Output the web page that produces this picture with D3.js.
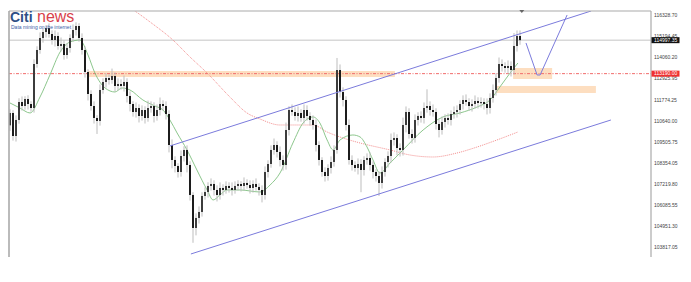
<!DOCTYPE html>
<html>
<meta charset="utf-8">
<style>
  body { margin: 0; background: #fff; }
  svg { display: block; }
  .tick-label { font-family: "Liberation Sans", Arial, sans-serif; font-size: 5px; fill: #444; }
  .price-box text { font-family: "Liberation Sans", Arial, sans-serif; font-size: 5px; fill: #fff; }
  .frame { stroke: #aaa; fill: none; }
</style>
<body>
<script src="https://d3js.org/d3.v7.min.js"></script>
<script>
// closing prices, one per bar (open = previous close)
var firstOpen = 110400;
var closes = [
  111067,109825,110689,111660,111444,111822,111552,111336,113711,114467,
  115114,115438,115654,115330,115006,115222,114683,114791,114197,114575,
  115114,115546,115762,115114,114467,113279,112092,111444,110797,110635,
  112308,112740,112955,112848,113063,112524,112632,112524,112740,111984,
  111552,111120,111336,110905,111228,110797,111336,111444,110905,111228,
  111552,111444,111013,109339,108530,108206,107882,108746,109070,108260,
  106641,104860,105400,105724,106587,106803,107127,107235,106911,106641,
  107019,106911,107127,107019,106911,107127,107235,107127,107289,107181,
  107019,107235,107073,106911,106641,107882,108314,109070,109339,108962,
  108530,108260,110149,111228,111120,110905,111067,110797,111228,110905,
  110689,110419,109339,108530,107882,107666,108098,108422,109070,113387,
  112200,111768,110419,108530,108260,108098,108314,107990,108530,108638,
  108260,107882,107666,107289,107882,108422,108746,109609,109717,109177,
  109070,110419,111120,109933,109717,110689,110905,110797,111336,111444,
  111228,111120,110473,110149,110581,110797,110689,111013,111120,111228,
  111552,111768,111660,111444,111552,111714,111606,111660,111552,111336,
  111876,112308,112955,113711,113603,113495,113603,113387,114683,115222,
  114997.35
];
// wick length above / below the body, in price points
var wickUp = [
  200,150,250,200,300,150,200,150,250,200, 300,200,150,250,200,300,200,350,200,250,
  200,300,200,150,250,200,150,200,250,150, 300,200,250,200,400,200,300,250,350,200,
  250,150,300,200,250,200,400,250,200,300, 350,200,250,200,300,200,150,300,200,250,
  200,150,250,300,200,250,200,300,200,250, 300,200,250,200,300,250,200,150,300,200,
  250,200,300,200,250,300,200,250,350,200, 300,250,400,200,300,250,350,200,300,250,
  200,250,300,200,150,250,200,300,250,650, 300,250,200,300,250,200,300,250,200,250,
  300,200,150,250,300,200,250,350,300,200, 250,400,300,200,250,300,200,250,300,900,
  250,300,200,250,300,200,250,200,300,250, 200,250,300,200,250,300,200,250,200,300,
  250,300,250,350,250,200,300,250,700,300, 300
];
var wickDn = [
  300,250,300,200,250,200,300,200,250,200, 200,250,300,200,250,350,200,300,250,200,
  250,200,300,200,250,300,350,250,300,700, 250,200,300,250,200,300,250,200,300,350,
  400,250,300,350,250,300,200,250,350,250, 300,250,300,400,450,350,300,250,300,400,
  300,800,400,300,250,200,300,250,300,350, 250,300,200,250,300,200,250,300,250,200,
  300,250,200,300,400,250,300,200,250,300, 350,300,250,300,200,250,300,200,300,250,
  300,250,350,300,250,300,250,300,250,200, 300,350,300,250,300,200,350,1200,300,250,
  300,350,300,700,300,250,300,350,300,400, 350,300,400,250,300,250,300,250,300,250,
  300,250,300,400,250,300,250,300,250,300, 250,300,200,250,300,250,300,250,300,350,
  300,250,300,250,300,250,300,350,250,300, 250
];

var tickLabels = ["116328.70","115194.45","114060.20","112925.95","111774.25","110640.00",
                  "109505.75","108354.05","107219.80","106085.55","104951.30","103817.05"];

var currentPrice = 114997.35;
var alertPrice = 113190.00;

// moving averages, read at bar positions
var greenMaIdx = [0,3.3,6.7,10,13.3,16.7,20,23.3,26,28.3,31.7,35,37.3,40,44.3,48.3,51,53.3,55.7,59,
                  62.3,65.7,67.7,70,72.3,76.7,83.3,86.7,90,94.3,97.7,101,103.3,105.7,107.7,110,114.3,
                  116.7,119,121,123.3,126.7,131,137.7,144.3,150,155.7,160,163.3,166.7,169.3];
var greenMaVal = [111606,111336,111067,111930,113117,114359,114899,115006,114197,113225,112416,112200,
                  112416,112308,111768,111444,111228,110689,109987,109070,107990,106911,106371,106641,
                  106911,106911,106803,107181,107828,109447,110527,110851,110527,109609,109070,109609,
                  109879,109771,109231,108530,107828,108368,109070,110149,110851,111067,111390,111768,
                  112470,113225,113765];
var redMaIdx = [38.3,46.7,54.3,60,65.7,73.3,79,83.3,90,101,105.7,110,116.7,126.7,133.3,141,149,155.7,162.3,169.3];
var redMaVal = [116949,115978,115006,114089,113225,111930,111067,110743,110419,110419,110041,109771,
                109447,109070,108800,108692,108908,109231,109609,110041];

// drawn objects: channel, projection, zones
var channelUpper = [[53.3, 109286], [193.7, 116572]];
var channelLower = [[60.3, 103457], [200.3, 110689]];
var projection = [[172, 114845], [175.7, 113117], [176.7, 113117], [185.7, 116356]];
var zones = [
  {from: 26, to: 128.3, top: 113333, bottom: 113009},
  {from: 167.7, to: 180.7, top: 113495, bottom: 112902},
  {from: 162, to: 195.3, top: 112524, bottom: 112146}
];

var width = 691, height = 282;
var plot = {left: 9, right: 651, top: 11, bottom: 257};

var x = d3.scaleLinear().domain([0, 214]).range([10, 652]);
var y = d3.scaleLinear().domain([103817.05, 116328.70]).range([247.3, 15.5]);

var svg = d3.select("body").append("svg")
    .attr("width", width)
    .attr("height", height);

svg.append("clipPath").attr("id", "clip")
  .append("rect")
    .attr("x", plot.left).attr("y", plot.top)
    .attr("width", plot.right - plot.left).attr("height", plot.bottom - plot.top);

var g = svg.append("g").attr("clip-path", "url(#clip)");

// zones
g.selectAll(".zone")
  .data(zones)
  .enter().append("rect")
    .attr("class", "zone")
    .attr("x", function(d) { return x(d.from); })
    .attr("width", function(d) { return x(d.to) - x(d.from); })
    .attr("y", function(d) { return y(d.top); })
    .attr("height", function(d) { return y(d.bottom) - y(d.top); })
    .style("fill", "#fbc896")
    .style("opacity", 0.6);

// current price and alert lines
g.append("line")
    .attr("x1", plot.left).attr("x2", plot.right)
    .attr("y1", y(currentPrice)).attr("y2", y(currentPrice))
    .style("stroke", "#c4c4c4").style("stroke-width", 1);

g.append("line")
    .attr("x1", plot.left).attr("x2", plot.right)
    .attr("y1", y(alertPrice)).attr("y2", y(alertPrice))
    .style("stroke", "#f26a6a").style("stroke-width", 1)
    .style("stroke-dasharray", "3,1.5,1,1.5");

// moving averages
var maLine = d3.line()
    .x(function(d) { return x(d[0]); })
    .y(function(d) { return y(d[1]); })
    .curve(d3.curveMonotoneX);

g.append("path")
    .datum(redMaIdx.map(function(v, i) { return [v, redMaVal[i]]; }))
    .attr("d", maLine)
    .style("fill", "none").style("stroke", "#f08080").style("stroke-width", 0.9)
    .style("stroke-dasharray", "1,1");

g.append("path")
    .datum(greenMaIdx.map(function(v, i) { return [v, greenMaVal[i]]; }))
    .attr("d", maLine)
    .style("fill", "none").style("stroke", "#7fbf7f").style("stroke-width", 0.9);

// candles
var bars = closes.map(function(c, i) {
  var o = i === 0 ? firstOpen : closes[i - 1];
  return {i: i, open: o, close: c,
          high: Math.max(o, c) + wickUp[i], low: Math.min(o, c) - wickDn[i]};
});

var candle = g.selectAll(".candle")
  .data(bars)
  .enter().append("g")
    .attr("class", "candle");

candle.append("line")
    .attr("x1", function(d) { return x(d.i); })
    .attr("x2", function(d) { return x(d.i); })
    .attr("y1", function(d) { return y(d.high); })
    .attr("y2", function(d) { return y(d.low); })
    .style("stroke", "#bdbdbd").style("stroke-width", 1);

candle.append("rect")
    .attr("x", function(d) { return x(d.i) - 1; })
    .attr("width", 2)
    .attr("y", function(d) { return y(Math.max(d.open, d.close)); })
    .attr("height", function(d) { return Math.max(1.2, Math.abs(y(d.open) - y(d.close))); })
    .style("fill", function(d) { return d.close >= d.open ? "#3c3c3c" : "#1c1c1c"; });

// channel and projection
var pt = d3.line()
    .x(function(d) { return x(d[0]); })
    .y(function(d) { return y(d[1]); });

[channelUpper, channelLower].forEach(function(c) {
  g.append("path").datum(c).attr("d", pt)
    .style("fill", "none").style("stroke", "#7b7bdc").style("stroke-width", 1);
});

g.append("path").datum(projection).attr("d", pt)
    .style("fill", "none").style("stroke", "#7b7bdc").style("stroke-width", 1);

// frame
svg.append("line").attr("class", "frame")
    .attr("x1", plot.left).attr("x2", plot.right).attr("y1", plot.top).attr("y2", plot.top)
    .style("stroke-width", 1.2);
svg.append("line").attr("class", "frame")
    .attr("x1", plot.left).attr("x2", plot.left).attr("y1", plot.top).attr("y2", plot.bottom)
    .style("stroke-width", 1.6);
svg.append("line").attr("class", "frame")
    .attr("x1", plot.right).attr("x2", plot.right).attr("y1", plot.top).attr("y2", plot.bottom)
    .style("stroke-width", 1.2);

// chart shift marker
svg.append("path")
    .attr("d", "M" + (x(170.6) - 2.5) + "," + (plot.top - 1) + "l5,0l-2.5,3z")
    .style("fill", "#666");

// price scale
svg.selectAll(".tick-label")
  .data(tickLabels)
  .enter().append("text")
    .attr("class", "tick-label")
    .attr("x", 654)
    .attr("y", function(d) { return y(+d); })
    .attr("dy", "0.35em")
    .text(function(d) { return d; });

function priceBox(value, color) {
  var b = svg.append("g").attr("class", "price-box")
      .attr("transform", "translate(" + plot.right + "," + y(value) + ")");
  b.append("rect").attr("x", 0.5).attr("y", -3).attr("width", 28).attr("height", 6).style("fill", color);
  b.append("text").attr("x", 3).attr("dy", "0.35em").text(value.toFixed(2));
}
priceBox(currentPrice, "#111");
priceBox(alertPrice, "#f03030");

// logo
var logo = svg.append("g").attr("transform", "translate(10,22)");
logo.append("text")
    .attr("x", 0).attr("y", 0)
    .style("font-family", "Liberation Sans, Arial, sans-serif")
    .style("font-size", "14px").style("font-weight", "bold")
    .style("fill", "#2e4f86")
    .text("Citi");
logo.append("text")
    .attr("x", 27).attr("y", 0)
    .style("font-family", "Liberation Sans, Arial, sans-serif")
    .style("font-size", "16px")
    .style("fill", "#d8414b")
    .text("news");
logo.append("text")
    .attr("x", 1).attr("y", 6.5)
    .style("font-family", "Liberation Sans, Arial, sans-serif")
    .style("font-size", "5px")
    .style("fill", "#3b5ea8")
    .text("Data mining on the internet");
</script>
</body>
</html>
